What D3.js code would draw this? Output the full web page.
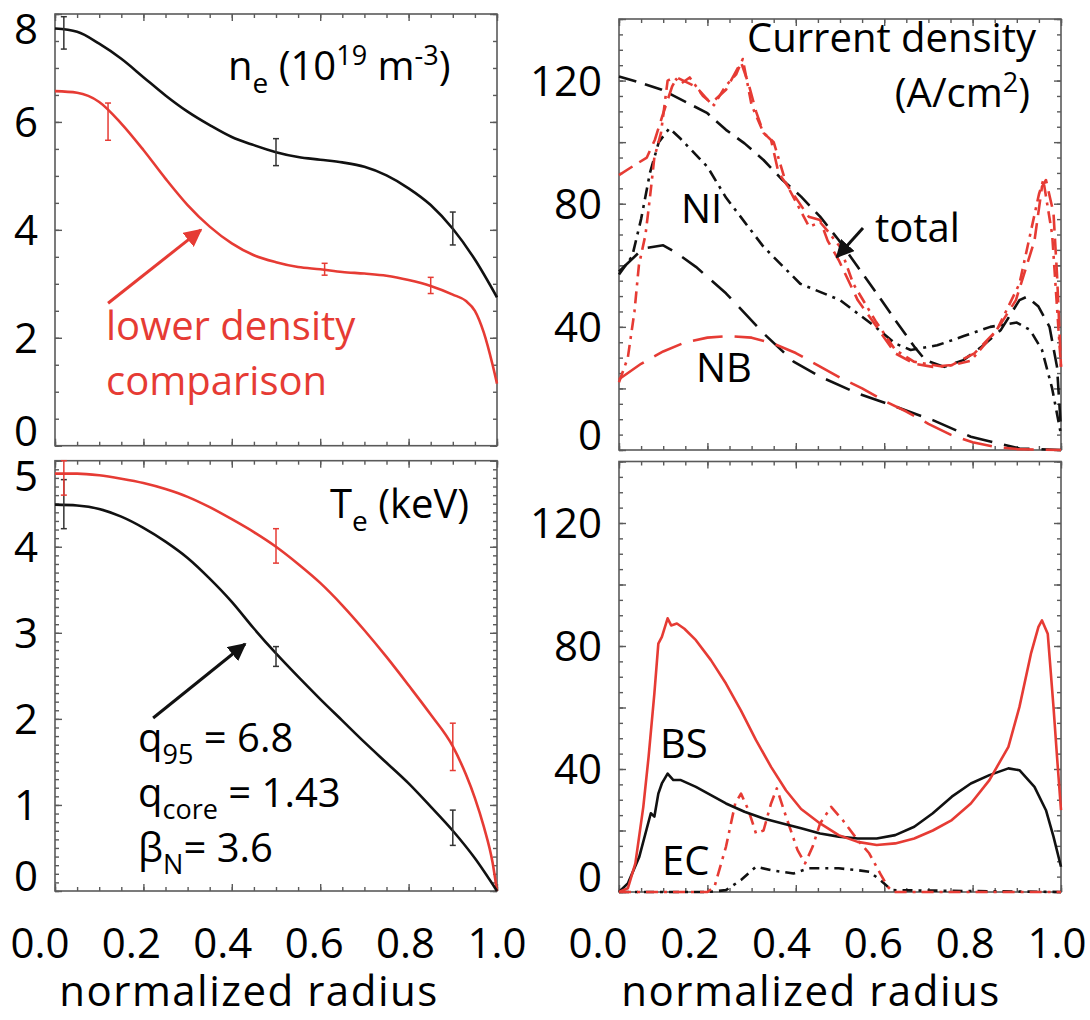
<!DOCTYPE html>
<html>
<head>
<meta charset="utf-8">
<script src="https://cdn.jsdelivr.net/npm/d3@7"></script>
<style>
body { margin: 0; background: #fff; }
text { font-family: "Open Sans", sans-serif; }
</style>
</head>
<body>
<div id="chart"></div>
<script>
// ---- data ----
var radiusTicks = [0, 0.2, 0.4, 0.6, 0.8, 1.0];

// n_e (10^19 m^-3)
var neX      = [0, 0.05, 0.1, 0.15, 0.2, 0.25, 0.3, 0.35, 0.4, 0.45, 0.5, 0.55, 0.6, 0.65, 0.7, 0.75, 0.8, 0.85, 0.9, 0.95, 1.0];
var neBlack  = [7.73, 7.67, 7.45, 7.17, 6.83, 6.49, 6.19, 5.94, 5.72, 5.57, 5.44, 5.35, 5.30, 5.25, 5.17, 5.01, 4.77, 4.46, 4.02, 3.45, 2.75];
var neRedX   = [0, 0.05, 0.1, 0.15, 0.2, 0.25, 0.3, 0.35, 0.4, 0.45, 0.5, 0.55, 0.6, 0.65, 0.7, 0.75, 0.8, 0.85, 0.9, 0.93, 0.95, 0.97, 0.99, 1.0];
var neRed    = [6.57, 6.54, 6.37, 5.97, 5.48, 4.95, 4.46, 4.06, 3.75, 3.53, 3.40, 3.31, 3.27, 3.22, 3.19, 3.15, 3.07, 2.96, 2.80, 2.68, 2.5, 2.1, 1.5, 1.15];
var neErrBlackX = [0.02, 0.5, 0.9], neErrBlackLo = [7.35, 5.19, 3.72], neErrBlackHi = [7.95, 5.69, 4.33];
var neErrRedX   = [0.12, 0.61, 0.85], neErrRedLo = [5.66, 3.16, 2.82], neErrRedHi = [6.35, 3.38, 3.12];

// T_e (keV)
var teX      = [0, 0.05, 0.1, 0.15, 0.2, 0.25, 0.3, 0.35, 0.4, 0.45, 0.5, 0.55, 0.6, 0.65, 0.7, 0.75, 0.8, 0.85, 0.9, 0.95, 1.0];
var teBlack  = [4.49, 4.48, 4.44, 4.35, 4.22, 4.06, 3.87, 3.63, 3.36, 3.05, 2.76, 2.49, 2.23, 1.98, 1.73, 1.49, 1.25, 0.98, 0.7, 0.38, 0.0];
var teRedX   = [0, 0.05, 0.1, 0.15, 0.2, 0.25, 0.3, 0.35, 0.4, 0.45, 0.5, 0.55, 0.6, 0.65, 0.7, 0.75, 0.8, 0.85, 0.9, 0.93, 0.95, 0.97, 0.99, 1.0];
var teRed    = [4.85, 4.85, 4.83, 4.79, 4.74, 4.67, 4.58, 4.46, 4.32, 4.17, 4.00, 3.80, 3.58, 3.32, 3.03, 2.72, 2.39, 2.05, 1.68, 1.35, 1.08, 0.75, 0.33, 0.0];
var teErrBlackX = [0.02, 0.5, 0.9], teErrBlackLo = [4.21, 2.61, 0.53], teErrBlackHi = [4.78, 2.84, 0.94];
var teErrRedX   = [0.02, 0.5, 0.9], teErrRedLo = [4.6, 3.81, 1.40], teErrRedHi = [5.0, 4.21, 1.95];

// current density (A/cm^2), top right
var totBlackX = [0, 0.055, 0.097, 0.157, 0.2, 0.242, 0.284, 0.327, 0.37, 0.412, 0.455, 0.497, 0.54, 0.583, 0.625, 0.668, 0.693, 0.736, 0.779, 0.821, 0.864, 0.906, 0.923, 0.949, 0.974, 0.991, 1.0];
var totBlack  = [121.3, 119, 117, 112.6, 109.4, 104, 99.6, 94.2, 87.7, 82.3, 75.8, 68.2, 59.5, 50.9, 42.2, 33.6, 29.2, 27, 29.2, 33.6, 39, 48.7, 49.8, 46.6, 40, 27, 6.5];
var niBlackX  = [0, 0.03, 0.05, 0.07, 0.09, 0.114, 0.14, 0.2, 0.242, 0.327, 0.41, 0.5, 0.58, 0.625, 0.66, 0.72, 0.78, 0.84, 0.9, 0.93, 0.957, 0.98, 1.0];
var niBlack   = [57, 63, 75, 90, 100, 104.5, 101, 92, 82, 66, 54, 48.7, 40, 34.6, 32.5, 34, 37, 40, 41.4, 39, 32.5, 20, 5];
var nbBlackX  = [0, 0.055, 0.1, 0.131, 0.174, 0.242, 0.327, 0.395, 0.455, 0.54, 0.625, 0.71, 0.796, 0.906, 1.0];
var nbBlack   = [58, 65.5, 66.5, 63.9, 59.5, 50.9, 37.9, 28.7, 23.8, 18.4, 14.1, 9.7, 4.3, 0.5, 0];
var totRedX   = [0, 0.025, 0.063, 0.081, 0.097, 0.12, 0.131, 0.174, 0.208, 0.242, 0.276, 0.293, 0.31, 0.327, 0.344, 0.361, 0.395, 0.429, 0.455, 0.472, 0.497, 0.54, 0.583, 0.625, 0.668, 0.71, 0.753, 0.804, 0.855, 0.898, 0.94, 0.957, 0.966, 0.983, 0.991, 1.0];
var totRed    = [89.3, 91.6, 95, 100.7, 108, 118, 121, 118, 112.6, 117, 126, 119, 110, 103, 100.7, 90, 83, 75.8, 74.7, 68, 61.7, 48.7, 40, 31.4, 28, 27, 27.6, 31.4, 39, 48.7, 68, 85.5, 87.7, 77, 57, 27];
var niRedX    = [0, 0.02, 0.035, 0.045, 0.06, 0.07, 0.08, 0.095, 0.11, 0.125, 0.14, 0.16, 0.19, 0.215, 0.24, 0.265, 0.28, 0.3, 0.327, 0.35, 0.378, 0.41, 0.43, 0.455, 0.47, 0.5, 0.53, 0.58, 0.625, 0.667, 0.736, 0.796, 0.855, 0.906, 0.95, 0.96, 0.98, 1.0];
var niRed     = [22, 30, 45, 60, 70, 82, 95, 103, 120, 121, 119, 121, 115, 112, 118, 122, 127, 112, 103, 100, 86.6, 78, 72.5, 74, 71.5, 66, 54, 42, 32.5, 28.7, 27, 29, 39, 54, 83, 87.7, 70, 27];
var nbRedX    = [0, 0.05, 0.1, 0.15, 0.2, 0.25, 0.3, 0.35, 0.4, 0.45, 0.5, 0.55, 0.6, 0.65, 0.7, 0.75, 0.8, 0.85, 0.9, 1.0];
var nbRed     = [23, 28, 32, 35, 36.5, 37, 36.5, 34.5, 31.5, 27.5, 23.5, 20, 16, 12.5, 8.5, 5, 2.5, 1, 0.3, 0];

// bootstrap and EC current, bottom right
var bsRedX  = [0, 0.02, 0.037, 0.055, 0.067, 0.08, 0.089, 0.097, 0.11, 0.118, 0.131, 0.148, 0.174, 0.208, 0.242, 0.276, 0.31, 0.344, 0.378, 0.412, 0.455, 0.497, 0.54, 0.583, 0.625, 0.668, 0.71, 0.753, 0.796, 0.838, 0.881, 0.906, 0.932, 0.949, 0.957, 0.97, 0.983, 0.991, 1.0];
var bsRed   = [0, 1.2, 9.3, 27.7, 44, 64.5, 80.8, 83, 89, 86.7, 87.3, 85.6, 81.9, 75.4, 67.8, 59, 49.4, 40.7, 33, 27, 22.3, 18.5, 16.3, 15.3, 15.8, 17.4, 20, 23.4, 28.8, 36.4, 47.2, 60.2, 77.5, 86.2, 88.3, 84, 60.2, 44, 26.6];
var bsBlackX = [0, 0.02, 0.046, 0.072, 0.08, 0.089, 0.097, 0.11, 0.123, 0.14, 0.174, 0.208, 0.242, 0.284, 0.327, 0.37, 0.412, 0.455, 0.497, 0.54, 0.583, 0.625, 0.668, 0.71, 0.753, 0.796, 0.838, 0.881, 0.906, 0.94, 0.966, 0.983, 1.0];
var bsBlack  = [0, 2.8, 11.5, 25.6, 24.5, 32, 35.3, 38.5, 36.4, 36.4, 34.2, 31.5, 28.8, 26.1, 23.9, 22.3, 20.7, 19, 18, 17.4, 17.4, 18.5, 21.2, 25.6, 31, 35.3, 38, 40.2, 39.6, 34.2, 26.6, 18, 8.2];
var ecBlackX = [0, 0.2, 0.242, 0.276, 0.31, 0.344, 0.395, 0.429, 0.497, 0.54, 0.566, 0.591, 0.617, 1.0];
var ecBlack  = [0, 0, 0.6, 3.9, 8.2, 7.1, 6, 7.7, 7.7, 7.1, 6.6, 3.9, 0.6, 0];
var ecRedX   = [0, 0.2, 0.216, 0.242, 0.263, 0.276, 0.293, 0.31, 0.327, 0.344, 0.357, 0.378, 0.404, 0.421, 0.438, 0.455, 0.48, 0.506, 0.54, 0.566, 0.591, 0.608, 0.621, 1.0];
var ecRed    = [0, 0, 1.7, 14.7, 28.8, 32, 26.6, 19, 20, 28.8, 33.7, 24.5, 13.6, 9.3, 14.7, 22.3, 27.7, 23.4, 16.9, 12.6, 6, 1.7, 0, 0];

// ---- drawing ----
var RED = "#e63b34", BLACK = "#111", FRAME = "#5a5a5a";

var svg = d3.select("#chart").append("svg")
    .attr("width", 1090)
    .attr("height", 1020);

svg.append("defs").selectAll("marker")
    .data([["arrRed", RED], ["arrBlack", BLACK]])
    .join("marker")
        .attr("id", d => d[0])
        .attr("viewBox", "0 0 10 10")
        .attr("refX", 9).attr("refY", 5)
        .attr("markerWidth", 6).attr("markerHeight", 6)
        .attr("markerUnits", "strokeWidth")
        .attr("orient", "auto")
    .append("path")
        .attr("d", "M0,0 L10,5 L0,10 z")
        .attr("fill", d => d[1]);

function frame(x, y, yMajor, yMinor, yLabels) {
    var g = svg.append("g");
    var yb = y.range()[0], yt = y.range()[1], x0 = x.range()[0], x1 = x.range()[1];
    var xMinor = d3.range(0, 1.0001, 0.05);

    function ax(gen, scale, vals, size, tx, ty) {
        var a = g.append("g")
            .attr("transform", "translate(" + tx + "," + ty + ")")
            .call(gen(scale).tickValues(vals).tickSize(size).tickSizeOuter(0).tickFormat(""));
        a.select(".domain").remove();
        a.selectAll("line").attr("stroke", FRAME).attr("stroke-width", 1.4);
    }
    ax(d3.axisBottom, x, xMinor, -4, 0, yb);
    ax(d3.axisBottom, x, radiusTicks, -7, 0, yb);
    ax(d3.axisTop, x, xMinor, -4, 0, yt);
    ax(d3.axisTop, x, radiusTicks, -7, 0, yt);
    ax(d3.axisLeft, y, yMinor, -4, x0, 0);
    ax(d3.axisLeft, y, yMajor, -7, x0, 0);
    ax(d3.axisRight, y, yMinor, -4, x1, 0);
    ax(d3.axisRight, y, yMajor, -7, x1, 0);

    g.append("rect")
        .attr("x", x0).attr("y", yt)
        .attr("width", x1 - x0).attr("height", yb - yt)
        .attr("fill", "none").attr("stroke", FRAME).attr("stroke-width", 1.6);

    g.selectAll(".ylab").data(yLabels).join("text")
        .attr("class", "ylab")
        .attr("x", x0 - 17)
        .attr("y", function(d) {
            var p = y(d);
            if (p - 15 < yt) p = yt + 15;
            if (p + 15 > yb) p = yb - 15;
            return p;
        })
        .attr("dy", "0.36em")
        .attr("text-anchor", "end")
        .attr("font-size", 42)
        .attr("fill", "#000")
        .text(d => d);
}

function curve(x, y, xs, ys, color, dash, smooth) {
    svg.append("path")
        .datum(xs.map((v, i) => [v, ys[i]]))
        .attr("fill", "none")
        .attr("stroke", color)
        .attr("stroke-width", 2.6)
        .attr("stroke-dasharray", dash || null)
        .attr("stroke-linejoin", "round")
        .attr("d", d3.line()
            .x(d => x(d[0]))
            .y(d => y(d[1]))
            .curve(smooth ? d3.curveMonotoneX : d3.curveLinear));
}

function errorBars(x, y, xs, lo, hi, color) {
    var g = svg.append("g").attr("stroke", color).attr("stroke-width", 1.5);
    xs.forEach(function(v, i) {
        g.append("line").attr("x1", x(v)).attr("x2", x(v)).attr("y1", y(lo[i])).attr("y2", y(hi[i]));
        g.append("line").attr("x1", x(v) - 3).attr("x2", x(v) + 3).attr("y1", y(lo[i])).attr("y2", y(lo[i]));
        g.append("line").attr("x1", x(v) - 3).attr("x2", x(v) + 3).attr("y1", y(hi[i])).attr("y2", y(hi[i]));
    });
}

function arrow(x, y, from, to, color, id) {
    svg.append("line")
        .attr("x1", x(from[0])).attr("y1", y(from[1]))
        .attr("x2", x(to[0])).attr("y2", y(to[1]))
        .attr("stroke", color).attr("stroke-width", 3)
        .attr("marker-end", "url(#" + id + ")");
}

function xLabels(lx, base) {
    svg.append("g").selectAll("text").data(radiusTicks).join("text")
        .attr("x", d => lx(d))
        .attr("y", base)
        .attr("text-anchor", "middle")
        .attr("font-size", 42)
        .text(d => d.toFixed(1));
}

// scales
var xL = d3.scaleLinear().domain([0, 1]).range([55, 497]);
var xR = d3.scaleLinear().domain([0, 1]).range([619, 1061]);
var yNe = d3.scaleLinear().domain([0, 8]).range([445.7, 14]);
var yTe = d3.scaleLinear().domain([0, 5]).range([891, 460.7]);
var yJ  = d3.scaleLinear().domain([0, 140]).range([450, 19]);
var yBs = d3.scaleLinear().domain([0, 140]).range([892, 461.5]);

// n_e panel
frame(xL, yNe, d3.range(0, 8.01, 2), d3.range(0, 8.01, 0.5), [0, 2, 4, 6, 8]);
curve(xL, yNe, neX, neBlack, BLACK, null, true);
curve(xL, yNe, neRedX, neRed, RED, null, true);
errorBars(xL, yNe, neErrBlackX, neErrBlackLo, neErrBlackHi, "#333");
errorBars(xL, yNe, neErrRedX, neErrRedLo, neErrRedHi, RED);
arrow(xL, yNe, [0.12, 2.64], [0.33, 4.0], RED, "arrRed");

var ne = svg.append("text").attr("x", 228).attr("y", 80).attr("font-size", 40);
ne.append("tspan").text("n");
ne.append("tspan").attr("font-size", 28).attr("dy", 13).text("e");
ne.append("tspan").attr("dy", -13).text(" (10");
ne.append("tspan").attr("font-size", 27).attr("dy", -15).text("19");
ne.append("tspan").attr("dy", 15).text(" m");
ne.append("tspan").attr("font-size", 27).attr("dy", -15).text("-3");
ne.append("tspan").attr("dy", 15).text(")");

svg.append("text").attr("x", 106).attr("y", 340).attr("font-size", 40).attr("fill", RED).text("lower density");
svg.append("text").attr("x", 106).attr("y", 395).attr("font-size", 40).attr("fill", RED).text("comparison");

// T_e panel
frame(xL, yTe, d3.range(0, 5.01, 1), d3.range(0, 5.01, 0.1), [0, 1, 2, 3, 4, 5]);
curve(xL, yTe, teRedX, teRed, RED, null, true);
curve(xL, yTe, teX, teBlack, BLACK, null, true);
errorBars(xL, yTe, teErrBlackX, teErrBlackLo, teErrBlackHi, "#333");
errorBars(xL, yTe, teErrRedX, teErrRedLo, teErrRedHi, RED);
arrow(xL, yTe, [0.222, 2.01], [0.43, 2.87], BLACK, "arrBlack");

var te = svg.append("text").attr("x", 330).attr("y", 518).attr("font-size", 40);
te.append("tspan").text("T");
te.append("tspan").attr("font-size", 28).attr("dy", 13).text("e");
te.append("tspan").attr("dy", -13).text(" (keV)");

var params = [["q", "95", " = 6.8", 752], ["q", "core", " = 1.43", 807], ["β", "N", "= 3.6", 862]];
params.forEach(function(p) {
    var t = svg.append("text").attr("x", 138).attr("y", p[3]).attr("font-size", 40);
    t.append("tspan").text(p[0]);
    t.append("tspan").attr("font-size", 27).attr("dy", 12).text(p[1]);
    t.append("tspan").attr("dy", -12).text(p[2]);
});

// current density panel
frame(xR, yJ, d3.range(0, 140.1, 20), d3.range(0, 140.1, 5), [0, 40, 80, 120]);
curve(xR, yJ, nbBlackX, nbBlack, BLACK, "26,12");
curve(xR, yJ, nbRedX, nbRed, RED, "30,12");
curve(xR, yJ, niBlackX, niBlack, BLACK, "12,6,3,6");
curve(xR, yJ, totBlackX, totBlack, BLACK, "18,9");
curve(xR, yJ, niRedX, niRed, RED, "12,6,3,6");
curve(xR, yJ, totRedX, totRed, RED, "16,8");
arrow(xR, yJ, [0.552, 72.1], [0.493, 62.7], BLACK, "arrBlack");

svg.append("text").attr("x", 1036).attr("y", 52).attr("font-size", 40).attr("text-anchor", "end").text("Current density");
var acm = svg.append("text").attr("x", 1030).attr("y", 107).attr("font-size", 40).attr("text-anchor", "end");
acm.append("tspan").text("(A/cm");
acm.append("tspan").attr("font-size", 27).attr("dy", -15).text("2");
acm.append("tspan").attr("dy", 15).text(")");
svg.append("text").attr("x", 681).attr("y", 223).attr("font-size", 40).text("NI");
svg.append("text").attr("x", 696).attr("y", 382).attr("font-size", 40).text("NB");
svg.append("text").attr("x", 875).attr("y", 242).attr("font-size", 40).text("total");

// bootstrap / EC panel
frame(xR, yBs, d3.range(0, 140.1, 20), d3.range(0, 140.1, 5), [0, 40, 80, 120]);
curve(xR, yBs, ecBlackX, ecBlack, BLACK, "10,6,3,6");
curve(xR, yBs, ecRedX, ecRed, RED, "12,6,3,6");
curve(xR, yBs, bsBlackX, bsBlack, BLACK, null);
curve(xR, yBs, bsRedX, bsRed, RED, null);
svg.append("text").attr("x", 660).attr("y", 758).attr("font-size", 40).text("BS");
svg.append("text").attr("x", 662).attr("y", 875).attr("font-size", 40).text("EC");

// bottom axis labels
xLabels(d3.scaleLinear().domain([0, 1]).range([40, 497]), 958);
xLabels(d3.scaleLinear().domain([0, 1]).range([598, 1057]), 958);
svg.append("text").attr("x", 249).attr("y", 1006).attr("font-size", 42).attr("text-anchor", "middle").attr("letter-spacing", 1.5).text("normalized radius");
svg.append("text").attr("x", 811).attr("y", 1006).attr("font-size", 42).attr("text-anchor", "middle").attr("letter-spacing", 1.5).text("normalized radius");
</script>
</body>
</html>
